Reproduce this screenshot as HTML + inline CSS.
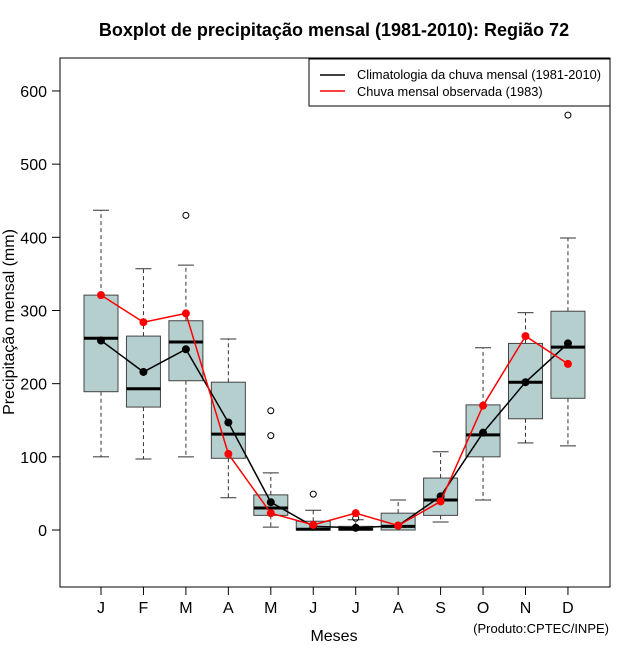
<!DOCTYPE html>
<html><head><meta charset="utf-8"><style>
body{margin:0;background:#fff}
svg{display:block;font-family:"Liberation Sans",sans-serif}
</style></head><body>
<svg id="chart" width="640" height="660">
<text x="334" y="36" text-anchor="middle" font-size="18" font-weight="bold">Boxplot de precipitação mensal (1981-2010): Região 72</text>
<rect x="60" y="58" width="550" height="529" fill="none" stroke="#000"/>
<g id="yaxis"></g>
<g id="xaxis"></g>
<g id="boxes"></g>
<g id="lines"></g>
<text x="14" y="322" transform="rotate(-90 14 322)" text-anchor="middle" font-size="16">Precipitação mensal (mm)</text>
<text x="334" y="641" text-anchor="middle" font-size="16">Meses</text>
<text x="609" y="633" text-anchor="end" font-size="13">(Produto:CPTEC/INPE)</text>
<g>
<rect x="309" y="59" width="301" height="47" fill="#fff" stroke="#000"/>
<line x1="320" y1="75" x2="345" y2="75" stroke="#000" stroke-width="1.5"/>
<text x="357" y="79" font-size="12.8">Climatologia da chuva mensal (1981-2010)</text>
<line x1="320" y1="91" x2="345" y2="91" stroke="#f00" stroke-width="1.5"/>
<text x="357" y="96" font-size="12.8">Chuva mensal observada (1983)</text>
</g>
</svg>
<script>
const months=["J","F","M","A","M","J","J","A","S","O","N","D"];
const lowW=[100,97,100,44,4,0,0,0,11,41,119,115];
const q1=[189,168,204,98,20,0,0,0,20,100,152,180];
const med=[262,193,257,131,30,1,1,5,41,130,202,250];
const q3=[321,265,286,202,48,12,5,23,71,171,255,299];
const highW=[437,357,362,261,78,27,14,41,107,249,297,399];
const outliers=[[],[],[430],[],[163,129],[49],[16],[],[],[],[],[567]];
const climMean=[259,216,247,147,38,5,3,6,46,133,202,255];
const observed=[321,284,296,104,23,7,23,6,39,170,265,227];
const yTicks=[0,100,200,300,400,500,600];

const NS="http://www.w3.org/2000/svg";
const y=v=>530-0.7317*v;
const x=i=>101+i*42.45;
function mk(p,t,a){const e=document.createElementNS(NS,t);for(const k in a)e.setAttribute(k,a[k]);p.appendChild(e);return e;}
const ya=document.getElementById('yaxis'),xa=document.getElementById('xaxis'),bx=document.getElementById('boxes'),ln=document.getElementById('lines');
mk(ya,'line',{x1:60,x2:60,y1:y(0),y2:y(600),stroke:'#000'});
yTicks.forEach(v=>{
 const t=mk(ya,'line',{x1:52,x2:60,y1:y(v),y2:y(v),stroke:'#000'});
 
 
 const l=mk(ya,'text',{x:47,y:y(v)+6,'text-anchor':'end','font-size':16});
 l.textContent=v;
 
 
});
months.forEach((m,i)=>{
 mk(xa,'line',{x1:x(i),x2:x(i),y1:587,y2:595,stroke:'#000'});
 const l=mk(xa,'text',{x:x(i),y:613,'text-anchor':'middle','font-size':16});
 l.textContent=m;
 
 
 const g=mk(bx,'g',{});
 
 
 const cx=x(i),w=17;
 mk(g,'line',{x1:cx,x2:cx,y1:y(q3[i]),y2:y(highW[i]),stroke:'#333','stroke-dasharray':'4,3'});
 mk(g,'line',{x1:cx,x2:cx,y1:y(q1[i]),y2:y(lowW[i]),stroke:'#333','stroke-dasharray':'4,3'});
 mk(g,'line',{x1:cx-8,x2:cx+8,y1:y(highW[i]),y2:y(highW[i]),stroke:'#333'});
 mk(g,'line',{x1:cx-8,x2:cx+8,y1:y(lowW[i]),y2:y(lowW[i]),stroke:'#333'});
 mk(g,'rect',{x:cx-w,y:y(q3[i]),width:2*w,height:Math.max(1,y(q1[i])-y(q3[i])),fill:'#b5cfcf',stroke:'#444'});
 mk(g,'line',{x1:cx-w,x2:cx+w,y1:y(med[i]),y2:y(med[i]),stroke:'#000','stroke-width':3});
 outliers[i].forEach(o=>{const c=mk(g,'circle',{cx:cx,cy:y(o),r:3,fill:'none',stroke:'#000'});
  
  });
});
function series(arr,col,name){
 const p=mk(ln,'polyline',{points:arr.map((v,i)=>x(i)+','+y(v)).join(' '),fill:'none',stroke:col,'stroke-width':1.5});
 
 
 arr.forEach((v,i)=>{const c=mk(ln,'circle',{cx:x(i),cy:y(v),r:4,fill:col});
  
  });
}
series(climMean,'#000','climatology');
series(observed,'#f00','observed');
</script>
</body></html>
